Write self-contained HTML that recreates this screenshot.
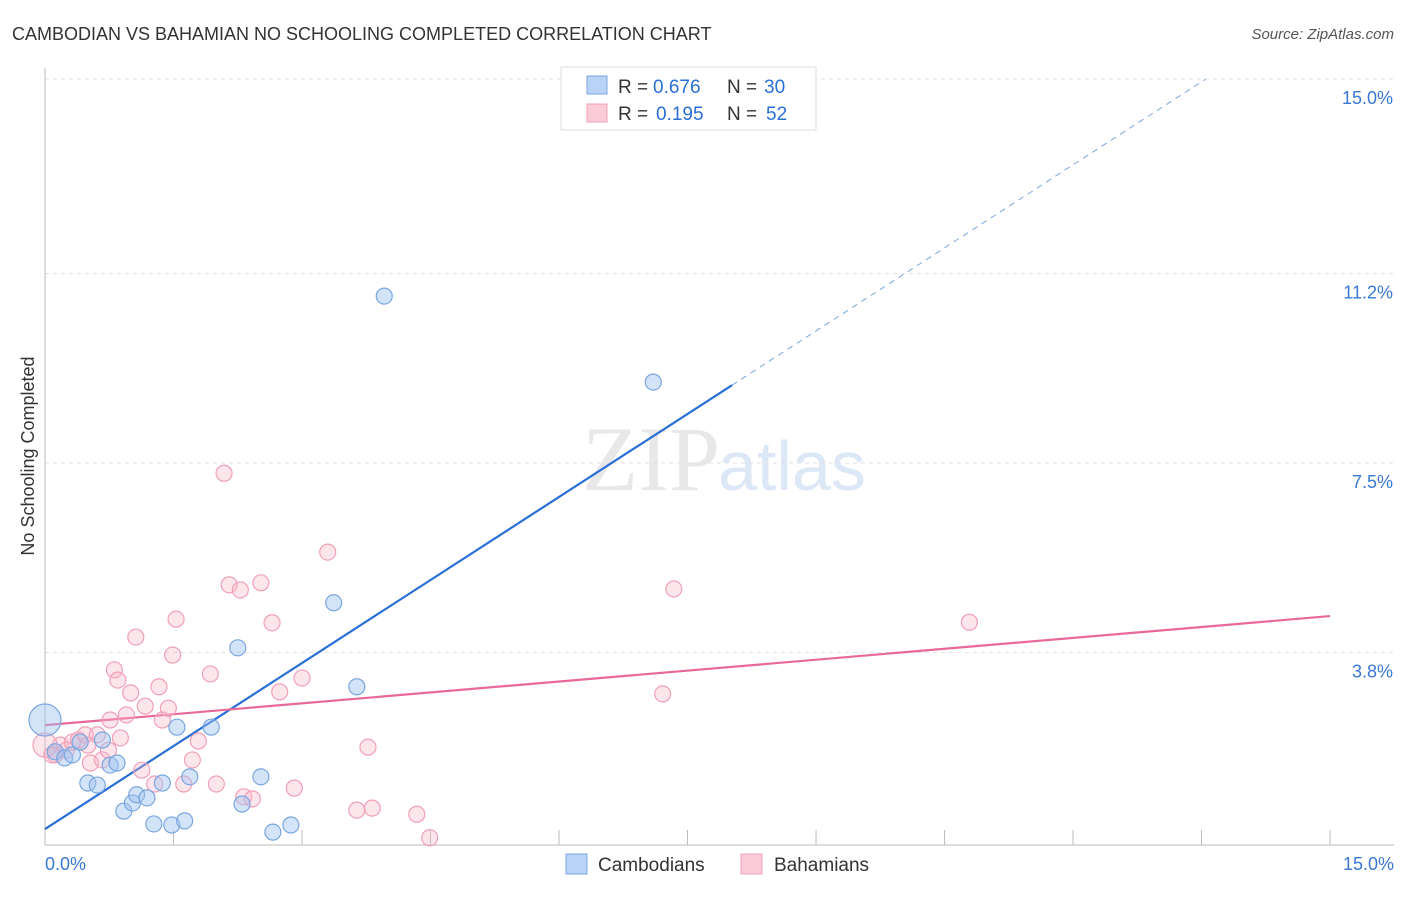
<!DOCTYPE html>
<html><head><meta charset="utf-8"><style>
body{margin:0;background:#fff;font-family:"Liberation Sans",sans-serif;}
</style></head><body>
<svg width="1406" height="892" xmlns="http://www.w3.org/2000/svg" id="svg" font-family="Liberation Sans, sans-serif">
<text x="12" y="40" font-size="18" fill="#333">CAMBODIAN VS BAHAMIAN NO SCHOOLING COMPLETED CORRELATION CHART</text>
<text x="1394" y="39" font-size="15" fill="#555" font-style="italic" text-anchor="end">Source: ZipAtlas.com</text>
<text x="720" y="490" font-size="92" fill="#e8e8e8" text-anchor="end" font-family="Liberation Serif, serif">ZIP</text>
<text x="718" y="490" font-size="70" fill="#dde8f6">atlas</text>
<text x="34" y="456" font-size="18" fill="#333" text-anchor="middle" transform="rotate(-90 34 456)">No Schooling Completed</text>
<g id="grid"></g><g id="lines"></g><g id="pts"></g>
<g>
<rect x="561" y="67" width="255" height="63" fill="#fff" stroke="#ddd"/>
<rect x="587" y="76" width="20" height="18" fill="#b8d3f5" stroke="#7aa6e0"/>
<text y="93" font-size="19" fill="#333"><tspan x="618">R =</tspan><tspan x="653" fill="#2a6fd6">0.676</tspan><tspan x="727">N =</tspan><tspan x="764" fill="#2a6fd6">30</tspan></text>
<rect x="587" y="104" width="20" height="18" fill="#fbcbd9" stroke="#f0a0b8"/>
<text y="120" font-size="19" fill="#333"><tspan x="618">R =</tspan><tspan x="656" fill="#2a6fd6">0.195</tspan><tspan x="727">N =</tspan><tspan x="766" fill="#2a6fd6">52</tspan></text>
</g>
<g>
<rect x="566" y="854" width="21" height="20" fill="#b8d3f5" stroke="#7aa6e0"/>
<text x="598" y="871" font-size="19" fill="#333">Cambodians</text>
<rect x="741" y="854" width="21" height="20" fill="#fbcbd9" stroke="#f0a0b8"/>
<text x="774" y="871" font-size="19" fill="#333">Bahamians</text>
</g>
</svg>
<script>
const yTicks=[3.8,7.5,11.2,15.0];
const yTickLabels=["3.8%","7.5%","11.2%","15.0%"];
const xTickVals=[1.5,3,4.5,6,7.5,9,10.5,12,13.5,15];
const cambX=[0,0.12,0.23,0.32,0.41,0.5,0.61,0.67,0.76,0.84,0.92,1.02,1.07,1.19,1.27,1.37,1.48,1.54,1.63,1.69,1.94,2.25,2.3,2.52,2.66,2.87,3.37,3.64,3.96,7.1];
const cambY=[2.48,1.86,1.74,1.8,2.05,1.25,1.21,2.09,1.6,1.64,0.7,0.86,1.02,0.96,0.45,1.25,0.43,2.34,0.51,1.37,2.34,3.89,0.84,1.37,0.29,0.43,4.77,3.13,10.76,9.08];
const bahX=[0.12,0.18,0.25,0.32,0.39,0.47,0.53,0.61,0.67,0.74,0.76,0.81,0.85,0.88,0.95,1.0,1.06,1.13,1.17,1.28,1.33,1.37,1.44,1.49,1.53,1.62,1.72,1.79,1.93,2.0,2.09,2.15,2.28,2.32,2.42,2.52,2.65,2.74,2.91,3.0,3.3,3.64,3.77,3.82,4.34,4.49,7.21,7.34,10.79,0,0.5,0.08];
const bahY=[1.8,1.99,1.89,2.05,2.09,2.19,1.64,2.19,1.7,1.89,2.48,3.46,3.26,2.13,2.58,3.01,4.1,1.5,2.75,1.23,3.13,2.48,2.71,3.75,4.45,1.23,1.7,2.07,3.38,1.23,7.3,5.12,5.02,0.98,0.94,5.16,4.38,3.03,1.15,3.3,5.76,0.72,1.95,0.76,0.64,0.18,2.99,5.04,4.39,1.99,1.99,1.8];
const cambTrend=[0,0.35,8.02,9.02,13.55,15];
const bahTrend=[0,2.38,15,4.51];
const NS="http://www.w3.org/2000/svg";
const sx=v=>45+v*85.67, sy=v=>847-v*51.2;
function mk(t,a,p){const e=document.createElementNS(NS,t);for(const k in a)e.setAttribute(k,a[k]);p.appendChild(e);return e;}
const grid=document.getElementById('grid'),lines=document.getElementById('lines'),pts=document.getElementById('pts');
yTicks.forEach((v,i)=>{
 const l=mk('line',{x1:45,x2:1394,y1:sy(v),y2:sy(v),stroke:'#e2e2e2','stroke-dasharray':'4,4'},grid);
 
 
 const t=mk('text',{x:1393,y:sy(v)+25,'font-size':18,fill:'#3a78d4','text-anchor':'end'},grid);
 t.textContent=yTickLabels[i];
 
 
});
const ax=mk('line',{x1:45,x2:45,y1:68,y2:845,stroke:'#bbb'},grid);


const bx=mk('line',{x1:45,x2:1394,y1:845,y2:845,stroke:'#bbb'},grid);


xTickVals.forEach(v=>{const l=mk('line',{x1:sx(v),x2:sx(v),y1:830,y2:845,stroke:'#bbb'},grid);
 
 });
[[0,'0.0%','start',45],[15,'15.0%','end',1394]].forEach(d=>{const t=mk('text',{x:d[3],y:870,'font-size':18,fill:'#3a78d4','text-anchor':d[2]},grid);t.textContent=d[1];
 
 });
function pt(x,y,r,f,s,n){const c=mk('circle',{cx:sx(x),cy:sy(y),r:r,fill:f,stroke:s,'stroke-width':1.2},pts);
 
 }
bahX.forEach((x,i)=>pt(x,bahY[i],i==49?12:8,'rgba(248,180,200,0.35)','#f0a0b8','bahamian-point'));
cambX.forEach((x,i)=>pt(x,cambY[i],i==0?16:8,'rgba(160,196,240,0.45)','#7aa6e0','cambodian-point'));
const b1=mk('line',{x1:sx(cambTrend[0]),y1:sy(cambTrend[1]),x2:sx(cambTrend[2]),y2:sy(cambTrend[3]),stroke:'#2a6fd6','stroke-width':2.2},lines);


const b2=mk('line',{x1:sx(cambTrend[2]),y1:sy(cambTrend[3]),x2:sx(cambTrend[4]),y2:sy(cambTrend[5]),stroke:'#7aa6e0','stroke-width':1,'stroke-dasharray':'6,5'},lines);


const p1=mk('line',{x1:sx(bahTrend[0]),y1:sy(bahTrend[1]),x2:sx(bahTrend[2]),y2:sy(bahTrend[3]),stroke:'#e8689a','stroke-width':2.2},lines);


</script>
</body></html>
